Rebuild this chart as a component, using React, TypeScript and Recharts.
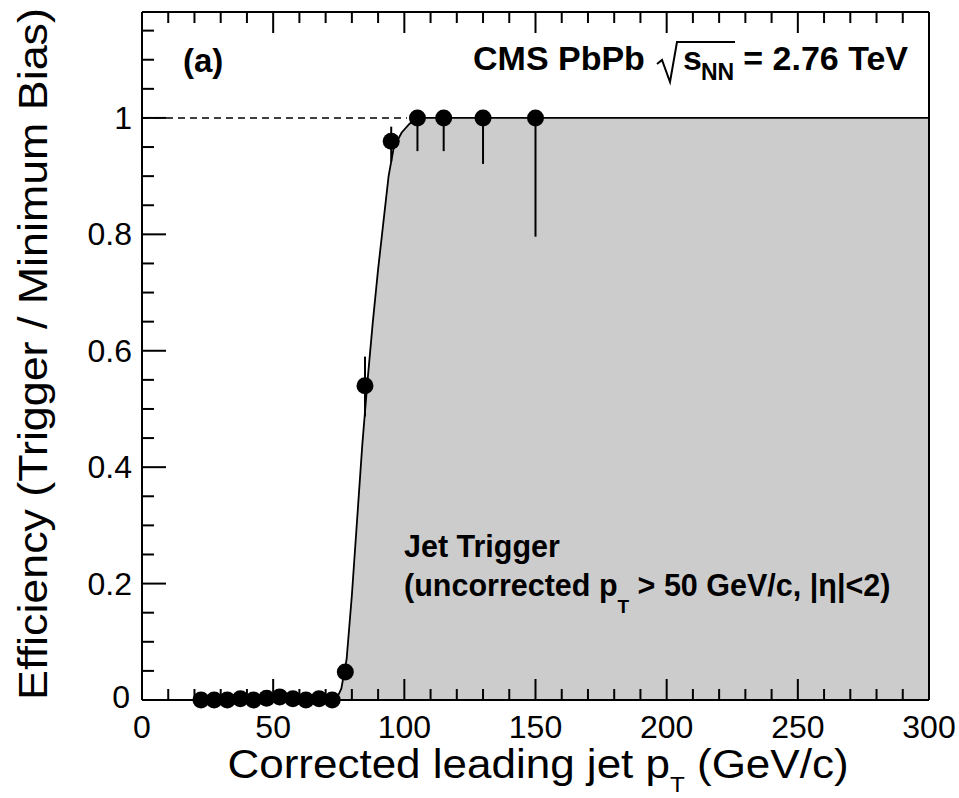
import { ComposedChart, Area, Scatter, ErrorBar, XAxis, YAxis, ReferenceLine } from 'recharts';

// fitted turn-on curve
const fitPt = [74, 76, 78, 80, 82, 84, 86, 88, 90, 92, 94, 96, 99, 102, 105, 300];
const fitEff = [0, 0.02, 0.07, 0.18, 0.31, 0.44, 0.55, 0.65, 0.74, 0.82, 0.9, 0.95, 0.975, 0.99, 1, 1];

// measured trigger efficiency per leading-jet pT bin
const binPt = [22.5, 27.5, 32.5, 37.5, 42.5, 47.5, 52.5, 57.5, 62.5, 67.5, 72.5, 77.5, 85, 95, 105, 115, 130, 150];
const binEff = [0, 0, 0, 0.002, 0, 0.003, 0.005, 0.002, 0, 0.002, 0, 0.048, 0.54, 0.96, 1, 1, 1, 1];
const errLow = [0, 0, 0, 0.002, 0, 0.003, 0.004, 0.002, 0, 0.002, 0, 0.012, 0.053, 0.035, 0.057, 0.057, 0.079, 0.204];
const errHigh = [0.002, 0.002, 0.002, 0.002, 0.002, 0.003, 0.004, 0.002, 0.002, 0.002, 0.002, 0.012, 0.05, 0.025, 0, 0, 0, 0];

const xTicks = [0, 10, 20, 30, 40, 50, 60, 70, 80, 90, 100, 110, 120, 130, 140, 150, 160, 170, 180, 190, 200,
  210, 220, 230, 240, 250, 260, 270, 280, 290, 300];
const yTicks = [0, 0.05, 0.1, 0.15, 0.2, 0.25, 0.3, 0.35, 0.4, 0.45, 0.5, 0.55, 0.6, 0.65, 0.7, 0.75, 0.8, 0.85,
  0.9, 0.95, 1, 1.05, 1.1, 1.15];

const fitData = fitPt.map((pt, i) => ({ pt, fit: fitEff[i] }));
const binData = binPt.map((pt, i) => ({ pt, eff: binEff[i], err: [errLow[i], errHigh[i]] }));

const W = 959;
const H = 798;
const PL = 142;
const PR = 929;
const PT = 12;
const PB = 700;
const FONT = '"Liberation Sans", Arial, Helvetica, sans-serif';

const isMajorX = (v: number) => v % 50 === 0;
const isMajorY = (v: number) => Math.abs(v * 5 - Math.round(v * 5)) < 1e-6;

function BottomTick(props: any) {
  const { x, payload } = props;
  const v = payload.value;
  const major = isMajorX(v);
  return (
    <g>
      <line x1={x} x2={x} y1={PB} y2={PB - (major ? 21 : 11)} stroke="#000" strokeWidth={2} />
      {major && (
        <text x={x} y={738} textAnchor="middle" fontSize={32} fontFamily={FONT} fill="#000">
          {v}
        </text>
      )}
    </g>
  );
}

function TopTick(props: any) {
  const { x, payload } = props;
  const major = isMajorX(payload.value);
  return <line x1={x} x2={x} y1={PT} y2={PT + (major ? 21 : 11)} stroke="#000" strokeWidth={2} />;
}

function LeftTick(props: any) {
  const { y, payload } = props;
  const v = payload.value;
  const major = isMajorY(v);
  const label = v === 0 ? '0' : v === 1 ? '1' : v.toFixed(1);
  return (
    <g>
      <line x1={PL} x2={PL + (major ? 24 : 12)} y1={y} y2={y} stroke="#000" strokeWidth={2} />
      {major && (
        <text x={v === 0 ? 130 : 132} y={v === 0 ? y + 8 : y + 11} textAnchor="end" fontSize={32} fontFamily={FONT} fill="#000">
          {label}
        </text>
      )}
    </g>
  );
}

function RightTick(props: any) {
  const { y, payload } = props;
  const major = isMajorY(payload.value);
  return <line x1={PR} x2={PR - (major ? 24 : 12)} y1={y} y2={y} stroke="#000" strokeWidth={2} />;
}

const Dot = (props: any) => <circle cx={props.cx} cy={props.cy} r={8.5} fill="#000" />;

export default function App() {
  return (
    <div style={{ position: 'absolute', left: 0, top: 0, width: W, height: H, background: '#fff' }}>
      <ComposedChart width={W} height={H} data={fitData} margin={{ top: 0, right: 0, bottom: 0, left: 0 }}>
        <XAxis
          xAxisId={0}
          dataKey="pt"
          type="number"
          domain={[0, 300]}
          ticks={xTicks}
          interval={0}
          height={H - PB}
          tickLine={false}
          axisLine={{ stroke: '#000', strokeWidth: 2 }}
          tick={BottomTick}
        />
        <XAxis
          xAxisId="top"
          orientation="top"
          dataKey="pt"
          type="number"
          domain={[0, 300]}
          ticks={xTicks}
          interval={0}
          height={PT}
          tickLine={false}
          axisLine={{ stroke: '#000', strokeWidth: 2 }}
          tick={TopTick}
        />
        <YAxis
          yAxisId={0}
          type="number"
          domain={[0, 1.182]}
          ticks={yTicks}
          interval={0}
          width={PL}
          tickLine={false}
          axisLine={{ stroke: '#000', strokeWidth: 2 }}
          tick={LeftTick}
        />
        <YAxis
          yAxisId="right"
          orientation="right"
          type="number"
          domain={[0, 1.182]}
          ticks={yTicks}
          interval={0}
          width={W - PR}
          tickLine={false}
          axisLine={{ stroke: '#000', strokeWidth: 2 }}
          tick={RightTick}
        />
        <ReferenceLine
          segment={[{ x: 0, y: 1 }, { x: 101, y: 1 }]}
          stroke="#000"
          strokeWidth={1.5}
          strokeDasharray="7 5"
        />
        <Area
          dataKey="fit"
          type="linear"
          baseValue={0}
          fill="#cccccc"
          fillOpacity={1}
          stroke="#000"
          strokeWidth={1.8}
          isAnimationActive={false}
          dot={false}
          activeDot={false}
        />
        <ReferenceLine x={300} stroke="#000" strokeWidth={2} />
        <ReferenceLine y={0} stroke="#000" strokeWidth={2} />
        <Scatter data={binData} dataKey="eff" shape={Dot} isAnimationActive={false}>
          <ErrorBar dataKey="err" direction="y" width={0} stroke="#000" strokeWidth={2} isAnimationActive={false} />
        </Scatter>
      </ComposedChart>

      <svg
        width={W}
        height={H}
        style={{ position: 'absolute', left: 0, top: 0, pointerEvents: 'none' }}
        fontFamily={FONT}
      >
        <text x={183} y={72} fontSize={33} fontWeight="bold">(a)</text>

        <text x={473} y={70} fontSize={34} fontWeight="bold">CMS PbPb</text>
        <path d="M657,64 L662,60 L670,82 L677,42 L735,42" fill="none" stroke="#000" strokeWidth={2} />
        <text x={683} y={70} fontSize={34} fontWeight="bold">s</text>
        <text x={701} y={80} fontSize={23} fontWeight="bold">NN</text>
        <text x={908} y={70} fontSize={34} fontWeight="bold" textAnchor="end">= 2.76 TeV</text>

        <text x={404} y={557} fontSize={30.5} fontWeight="bold">Jet Trigger</text>
        <text x={404} y={596} fontSize={30.5} fontWeight="bold">
          (uncorrected p<tspan dy={17} fontSize={19}>T</tspan>
          <tspan dy={-17}> &gt; 50 GeV/c, |η|&lt;2)</tspan>
        </text>

        <text transform="translate(538,778) scale(1.1,1)" textAnchor="middle" fontSize={40}>
          Corrected leading jet p<tspan dy={14} fontSize={22}>T</tspan>
          <tspan dy={-14}> (GeV/c)</tspan>
        </text>
        <text transform="translate(47,354) rotate(-90) scale(1.12,1)" textAnchor="middle" fontSize={40}>
          Efficiency (Trigger / Minimum Bias)
        </text>
      </svg>
    </div>
  );
}
